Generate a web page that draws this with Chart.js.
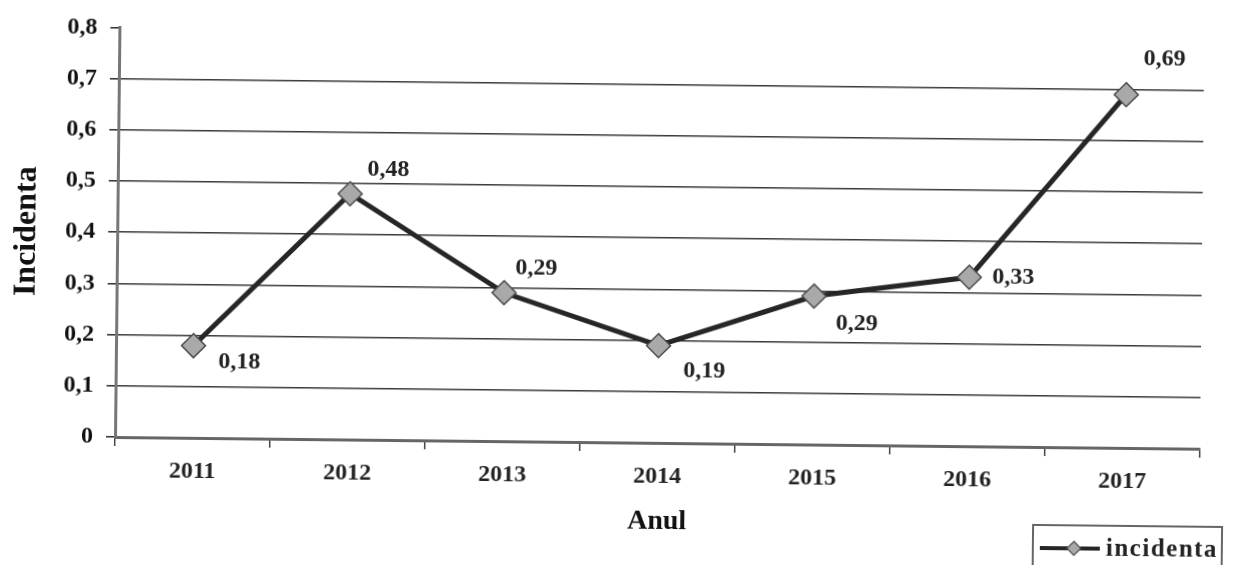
<!DOCTYPE html>
<html>
<head>
<meta charset="utf-8">
<script src="https://cdn.jsdelivr.net/npm/chart.js@4.4.1/dist/chart.umd.min.js"></script>
<style>
  html, body { margin: 0; padding: 0; background: #fff; overflow: hidden; }
  #wrap { position: relative; width: 1234px; height: 565px; }
  /* the printed page sits slightly askew */
  #chart { display: block; transform: rotate(0.62deg); transform-origin: 115px 437px; filter: blur(0.4px); }
</style>
</head>
<body>
<div id="wrap"><canvas id="chart" width="1234" height="565"></canvas></div>
<script>
// Years on the horizontal axis
const years = ['2011', '2012', '2013', '2014', '2015', '2016', '2017'];
// Incidence per year
const incidenta = [0.18, 0.48, 0.29, 0.19, 0.29, 0.33, 0.69];
// Vertical axis ticks
const yTicks = [0, 0.1, 0.2, 0.3, 0.4, 0.5, 0.6, 0.7, 0.8];
const seriesName = 'incidenta';
const xTitle = 'Anul';
const yTitle = 'Incidenta';

// where each value label sits relative to its marker (px)
const labelOffsets = [[46, 16], [38, -24], [32, -25], [46, 25], [43, 27], [44, 0], [38, -36]];

const SERIF = '"Liberation Serif", "Times New Roman", serif';
const fmt = v => (v === 0 ? '0' : v.toFixed(1).replace('.', ','));

const valueLabels = {
  id: 'valueLabels',
  afterDatasetsDraw(chart) {
    const ctx = chart.ctx;
    const meta = chart.getDatasetMeta(0);
    ctx.save();
    ctx.font = 'bold 24px ' + SERIF;
    ctx.fillStyle = '#222';
    ctx.textAlign = 'center';
    ctx.textBaseline = 'middle';
    meta.data.forEach((pt, i) => {
      const v = chart.data.datasets[0].data[i];
      const [dx, dy] = labelOffsets[i];
      ctx.fillText(v.toFixed(2).replace('.', ','), pt.x + dx, pt.y + dy);
    });
    ctx.restore();
  }
};

const boxedLegend = {
  id: 'boxedLegend',
  afterDraw(chart) {
    const ctx = chart.ctx;
    const ds = chart.data.datasets[0];
    const x = 1034, y = 515, w = 189, h = 70;
    ctx.save();
    ctx.strokeStyle = '#666';
    ctx.lineWidth = 2;
    ctx.strokeRect(x, y, w, h);
    const ly = y + 23;
    ctx.strokeStyle = ds.borderColor;
    ctx.lineWidth = 4;
    ctx.beginPath();
    ctx.moveTo(x + 7, ly);
    ctx.lineTo(x + 67, ly);
    ctx.stroke();
    // diamond marker
    const cx = x + 41, r = 7;
    ctx.beginPath();
    ctx.moveTo(cx, ly - r); ctx.lineTo(cx + r, ly); ctx.lineTo(cx, ly + r); ctx.lineTo(cx - r, ly);
    ctx.closePath();
    ctx.fillStyle = ds.pointBackgroundColor;
    ctx.fill();
    ctx.strokeStyle = ds.pointBorderColor;
    ctx.lineWidth = 1.2;
    ctx.stroke();
    ctx.fillStyle = '#222';
    ctx.letterSpacing = '1.5px';
    ctx.font = 'bold 25px ' + SERIF;
    ctx.textBaseline = 'middle';
    ctx.textAlign = 'left';
    ctx.fillText(ds.label, x + 73, ly + 1);
    ctx.restore();
  }
};

new Chart(document.getElementById('chart'), {
  type: 'line',
  data: {
    labels: years,
    datasets: [{
      label: seriesName,
      data: incidenta,
      borderColor: '#262626',
      borderWidth: 5,
      tension: 0,
      pointStyle: 'rectRot',
      pointRadius: 12,
      pointHoverRadius: 12,
      pointBackgroundColor: '#a9a9a9',
      pointBorderColor: '#4a4a4a',
      pointBorderWidth: 1.5
    }]
  },
  options: {
    responsive: false,
    animation: false,
    events: [],
    layout: { padding: { top: 25, right: 34, left: 0, bottom: 0 } },
    plugins: { legend: { display: false }, tooltip: { enabled: false } },
    scales: {
      x: {
        offset: true,
        afterFit(s) { s.height = 128; },
        border: { display: true, color: '#666', width: 3 },
        grid: { offset: true, drawOnChartArea: false, drawTicks: true, tickLength: 9, color: '#444', lineWidth: 1.5 },
        ticks: { color: '#222', padding: 10, font: { family: SERIF, size: 24, weight: 'bold' } },
        title: { display: true, text: xTitle, color: '#111', padding: { top: 0, bottom: 32 }, font: { family: SERIF, size: 28, weight: 'bold' } }
      },
      y: {
        min: 0,
        max: 0.8,
        afterFit(s) { s.width = 115; },
        afterBuildTicks(s) { s.ticks = yTicks.map(v => ({ value: v })); },
        border: { display: true, color: '#777', width: 3 },
        grid: {
          color: c => (c.tick && c.tick.value === 0.8 ? 'rgba(0,0,0,0)' : '#3a3a3a'),
          tickColor: '#3a3a3a',
          lineWidth: 1.6,
          tickLength: 9,
          drawTicks: true
        },
        ticks: {
          color: '#111',
          padding: 13,
          font: { family: SERIF, size: 24, weight: 'bold' },
          callback: v => fmt(v)
        },
        title: { display: true, text: yTitle, color: '#111', padding: { top: 6, bottom: 0 }, font: { family: SERIF, size: 32, weight: 'bold' } }
      }
    }
  },
  plugins: [valueLabels, boxedLegend]
});
</script>
</body>
</html>
